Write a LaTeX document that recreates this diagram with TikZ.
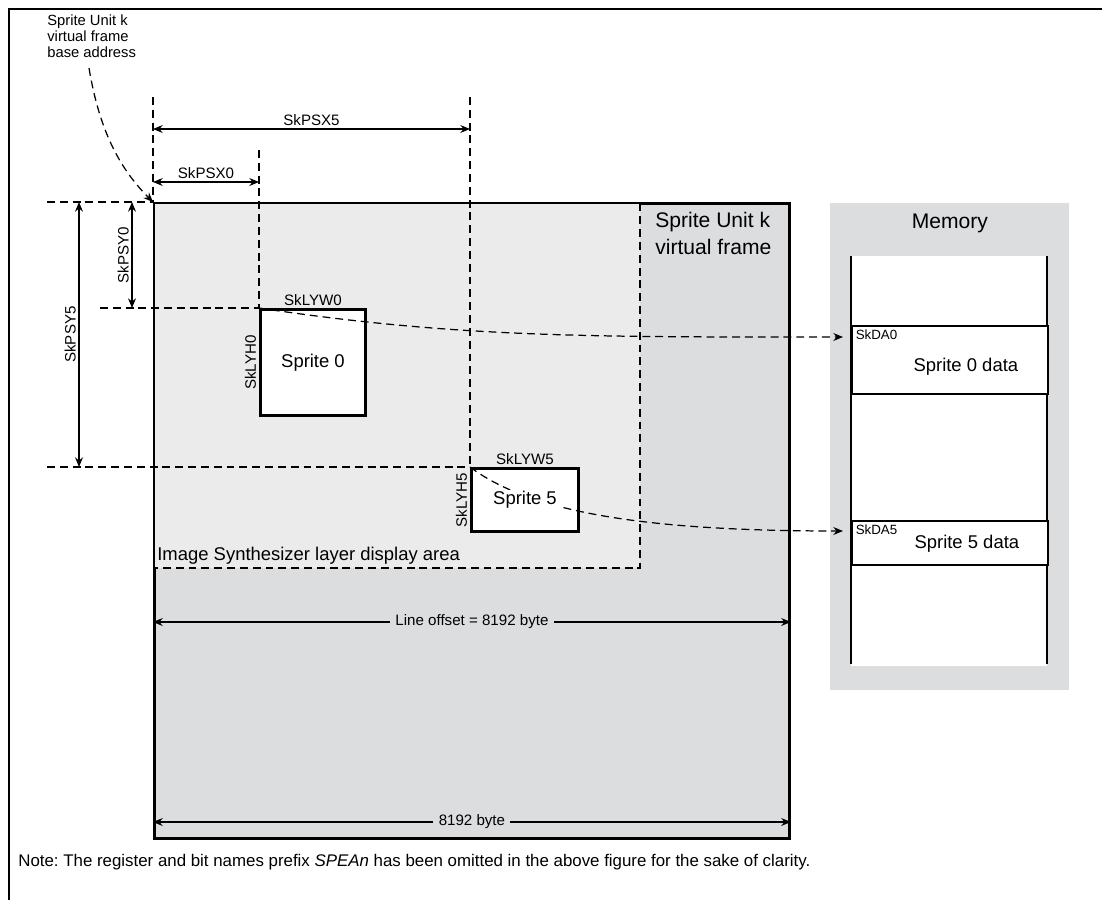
\documentclass[tikz,border=0pt]{standalone}
\usepackage{fontspec}
\setmainfont{Liberation Sans}
\usetikzlibrary{
  positioning,
  arrows.meta,
  calc
}
\definecolor{framegray}{HTML}{DCDDDF}
\definecolor{areagray}{HTML}{EBEBEC}
\frenchspacing

\begin{document}
\begin{tikzpicture}[x=0.02cm, y=-0.02cm,
  vframe/.style={draw, line width=1.7pt, fill=framegray, inner sep=0pt,
               minimum width=12.7cm, minimum height=12.7cm, anchor=north west},
  spritebox/.style={draw, line width=1.7pt, fill=white, inner sep=0pt, anchor=north west,
               font=\fontsize{10.5}{12}\selectfont},
  memrow/.style={draw, line width=1pt, fill=white, inner sep=0pt, anchor=north west,
               minimum width=3.92cm},
  guide/.style={line width=0.7pt, dash pattern=on 4.5pt off 2.8pt},
  dimarr/.style={{Stealth[length=5.5pt,width=4.5pt]}-{Stealth[length=5.5pt,width=4.5pt]},
               line width=0.7pt},
  link/.style={guide, -{Stealth[length=5.5pt,width=4.5pt]}},
  reg/.style={font=\fontsize{8.6}{10}\selectfont, inner sep=1.5pt},
  big/.style={font=\fontsize{12}{15.5}\selectfont},
  txt/.style={font=\fontsize{10.5}{12}\selectfont}
]
  \useasboundingbox (0,0) rectangle (1102,900);

  % Outer border
  \draw[line width=1.1pt] (9,900) -- (9,9) -- (1102,9);

  % Virtual frame and display area
  \node[vframe] (vf) at (153,202) {};
  \fill[areagray] (154.5,203.5) rectangle (640,568);
  \draw[guide] (640,203.5) -- (640,568) -- (154.5,568);
  \node[big, align=left, anchor=north west, inner sep=0pt] (vftitle) at (655,212)
    {Sprite Unit k\\virtual frame};
  \node[txt, anchor=west, inner sep=0pt] (arealbl) at (157,556)
    {Image Synthesizer layer display area};

  % Sprites
  \node[spritebox, minimum width=2.1cm, minimum height=2.12cm] (s0) at (259,308) {Sprite 0};
  \node[spritebox, minimum width=2.14cm, minimum height=1.26cm] (s5) at (470,467) {};

  % Guide lines
  \draw[guide] (vf.north west |- 0,97) -- (vf.north west);
  \draw[guide] (s0.north west |- 0,150) -- (s0.north west);
  \draw[guide] (s5.north west |- 0,97) -- (s5.north west);
  \draw[guide] (47,0 |- vf.north west) -- (vf.north west);
  \draw[guide] (100,0 |- s0.north west) -- (s0.north west);
  \draw[guide] (47,0 |- s5.north west) -- (s5.north west);

  % Position arrows
  \draw[dimarr] (vf.north west |- 0,129) -- (s5.north west |- 0,129)
    node[midway, above, reg] {SkPSX5};
  \draw[dimarr] (vf.north west |- 0,182) -- (s0.north west |- 0,182)
    node[midway, above, reg] {SkPSX0};
  \draw[dimarr] (132,0 |- vf.north west) -- (132,0 |- s0.north west)
    node[midway, reg, rotate=90, anchor=south] {SkPSY0};
  \draw[dimarr] (79,0 |- vf.north west) -- (79,0 |- s5.north west)
    node[midway, reg, rotate=90, anchor=south] {SkPSY5};

  % Sprite sizes
  \node[reg, anchor=south, inner sep=1pt] at (s0.north) {SkLYW0};
  \node[reg, rotate=90, anchor=south] at (s0.west) {SkLYH0};
  \node[reg, anchor=south, inner sep=1pt] at (s5.north) {SkLYW5};
  \node[reg, rotate=90, anchor=south] at (s5.west) {SkLYH5};

  % Line offset
  \draw[dimarr] (vf.west |- 0,622) -- (vf.east |- 0,622)
    node[midway, reg, fill=framegray, inner xsep=3pt] {Line offset = 8192 byte};
  \draw[dimarr] (vf.west |- 0,822) -- (vf.east |- 0,822)
    node[midway, reg, fill=framegray, inner xsep=3pt] {8192 byte};

  % Base address
  \node[align=left, anchor=north west, inner sep=0pt,
        font=\fontsize{8.4}{9.3}\selectfont] (baseaddr) at (47,14)
    {Sprite Unit k\\virtual frame\\base address};
  \coordinate (batip) at (89,68);
  \draw[link] (batip) .. controls +(10,60) and +(-35,-35) .. (vf.north west);

  % Memory
  \node[fill=framegray, inner sep=0pt, anchor=north west,
        minimum width=4.78cm, minimum height=9.74cm] (mem) at (830,203) {};
  \node[big, anchor=north, inner sep=0pt] (memtitle) at (mem.north |- 0,214) {Memory};
  \fill[white] (851,256) rectangle (1047,666);
  \draw[line width=1.1pt] (851,256) -- (851,664);
  \draw[line width=1.1pt] (1047,256) -- (1047,664);
  \node[memrow, minimum height=1.36cm] (d0) at (851,325) {};
  \node[memrow, minimum height=0.88cm] (d5) at (851,520) {};
  \node[reg, font=\fontsize{7.6}{9}\selectfont, anchor=north west, inner sep=2.5pt]
    at (d0.north west) {SkDA0};
  \node[reg, font=\fontsize{7.6}{9}\selectfont, anchor=north west, inner sep=2.5pt]
    at (d5.north west) {SkDA5};
  \node[txt] at ($(d0.center)+(16,7)$) {Sprite 0 data};
  \node[txt] at ($(d5.center)+(17,1)$) {Sprite 5 data};

  % Links to memory
  \coordinate (da0) at ($(d0.north west)+(-8,12)$);
  \coordinate (da5) at ($(d5.north west)+(-8,11)$);
  \draw[link] (s0.north west) .. controls +(200,30) and +(-250,0) .. (da0);
  \draw[link] (s5.north west) .. controls +(60,45) and +(-200,0) .. (da5);
  \node[txt, fill=white, inner sep=1pt] at (s5.center) {Sprite 5};

  % Note
  \node[anchor=west, inner sep=0pt, font=\fontsize{9.6}{12}\selectfont] (note) at (18,862)
    {Note: The register and bit names prefix \textit{SPEAn} has been omitted in the above figure for the sake of clarity.};
\end{tikzpicture}
\end{document}
